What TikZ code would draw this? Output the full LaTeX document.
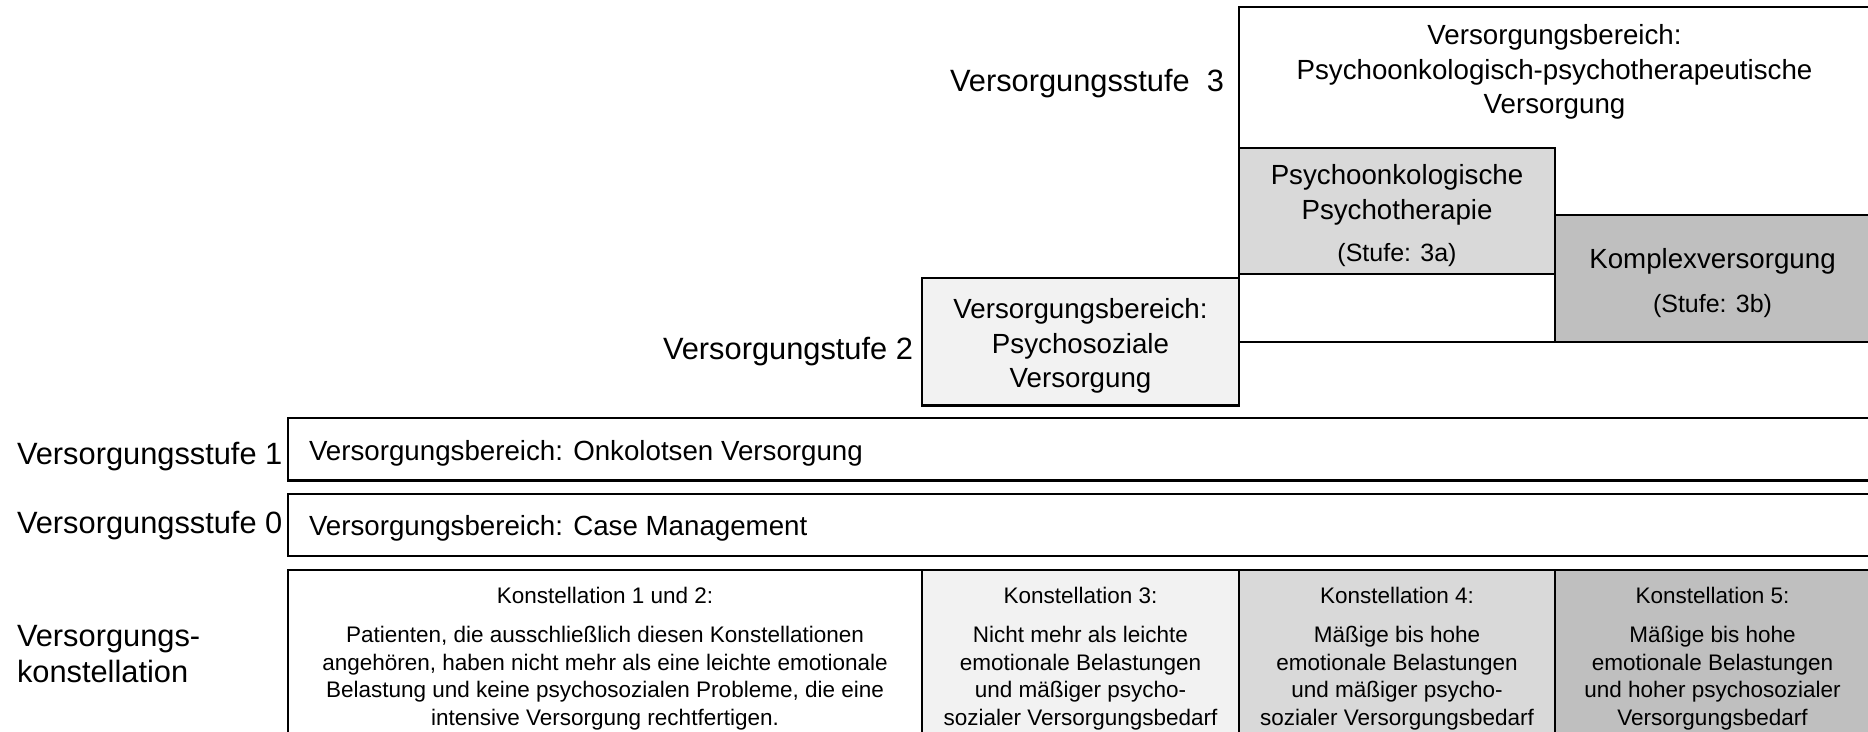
\documentclass[tikz,border=0pt]{standalone}
\usepackage{fontspec}
\setmainfont{Liberation Sans}
\newcommand\lblfont{\fontsize{30.8}{36.5}\selectfont}
\newcommand\areafont{\fontsize{27.7}{34.5}\selectfont}
\newcommand\stufefont{\fontsize{25}{30}\selectfont}
\newcommand\konfont{\fontsize{22.5}{27.5}\selectfont}
\definecolor{fillA}{HTML}{F2F2F2}
\definecolor{fillB}{HTML}{D9D9D9}
\definecolor{fillC}{HTML}{BFBFBF}
\begin{document}
\begin{tikzpicture}[x=1pt,y=-1pt,
  box/.style={draw=black, line width=2.5pt, inner sep=0pt, outer sep=0pt, anchor=north west},
  txt/.style={inner sep=0pt, outer sep=0pt, align=center, text=black},
  lbl/.style={txt, font=\lblfont},
  area/.style={txt, font=\areafont},
  kon/.style={txt, font=\konfont}]
\useasboundingbox (0,0) rectangle (1868,731);

% --- level 3: outer area with the two sub-levels 3a and 3b
\node[box, fill=white, minimum width=631pt, minimum height=335pt] (s3) at (1239,7) {};
\node[box, fill=fillB, minimum width=316pt, minimum height=126pt] (s3a) at (1239,148) {};
\node[box, fill=fillC, minimum width=315pt, minimum height=127pt] (s3b) at (1555,215) {};
\node[area] (s3t) at (1554.5,72) {Versorgungsbereich:\\Psychoonkologisch-psychotherapeutische\\Versorgung};
\node[area] (s3at) at (1397,195) {Psychoonkologische\\Psychotherapie};
\node[txt, font=\stufefont] (s3as) at (1397,255.5) {(Stufe: 3a)};
\node[area] (s3bt) at (1712.5,261) {Komplexversorgung};
\node[txt, font=\stufefont] (s3bs) at (1712.5,306) {(Stufe: 3b)};
\node[lbl, anchor=east] (l3) at (1224,83.5) {Versorgungsstufe\ \ 3};

% --- level 2
\node[box, fill=fillA, minimum width=317pt, minimum height=127.5pt] (s2) at (922,278) {};
\node[area] (s2t) at (1080.5,346) {Versorgungsbereich:\\Psychosoziale\\Versorgung};
\node[lbl, anchor=east] (l2) at (913,352) {Versorgungstufe 2};

% --- levels 1 and 0
\node[box, fill=white, minimum width=1582pt, minimum height=62.5pt] (s1) at (288,418) {};
\node[area, anchor=base west] (s1t) at (309,460) {Versorgungsbereich: Onkolotsen Versorgung};
\node[lbl, anchor=base west] (l1) at (17,464) {Versorgungsstufe 1};

\node[box, fill=white, minimum width=1582pt, minimum height=62pt] (s0) at (288,494) {};
\node[area, anchor=base west] (s0t) at (309,535) {Versorgungsbereich: Case Management};
\node[lbl, anchor=base west] (l0) at (17,533) {Versorgungsstufe 0};

% --- constellations
\node[box, fill=white, minimum width=634pt, minimum height=170pt] (k12) at (288,570) {};
\node[box, fill=fillA, minimum width=317pt, minimum height=170pt] (k3) at (922,570) {};
\node[box, fill=fillB, minimum width=316pt, minimum height=170pt] (k4) at (1239,570) {};
\node[box, fill=fillC, minimum width=315pt, minimum height=170pt] (k5) at (1555,570) {};

\node[kon] (k12h) at (605,595) {Konstellation 1 und 2:};
\node[kon] (k12p) at (605,678) {Patienten, die ausschließlich diesen Konstellationen\\angehören, haben nicht mehr als eine leichte emotionale\\Belastung und keine psychosozialen Probleme, die eine\\intensive Versorgung rechtfertigen.};
\node[kon] (k3h) at (1080.5,595) {Konstellation 3:};
\node[kon] (k3p) at (1080.5,678) {Nicht mehr als leichte\\emotionale Belastungen\\und mäßiger psycho-\\sozialer Versorgungsbedarf};
\node[kon] (k4h) at (1397,595) {Konstellation 4:};
\node[kon] (k4p) at (1397,678) {Mäßige bis hohe\\emotionale Belastungen\\und mäßiger psycho-\\sozialer Versorgungsbedarf};
\node[kon] (k5h) at (1712.5,595) {Konstellation 5:};
\node[kon] (k5p) at (1712.5,678) {Mäßige bis hohe\\emotionale Belastungen\\und hoher psychosozialer\\Versorgungsbedarf};

\node[lbl, align=left, anchor=west] (lk) at (17,654) {Versorgungs-\\konstellation};
\end{tikzpicture}
\end{document}
